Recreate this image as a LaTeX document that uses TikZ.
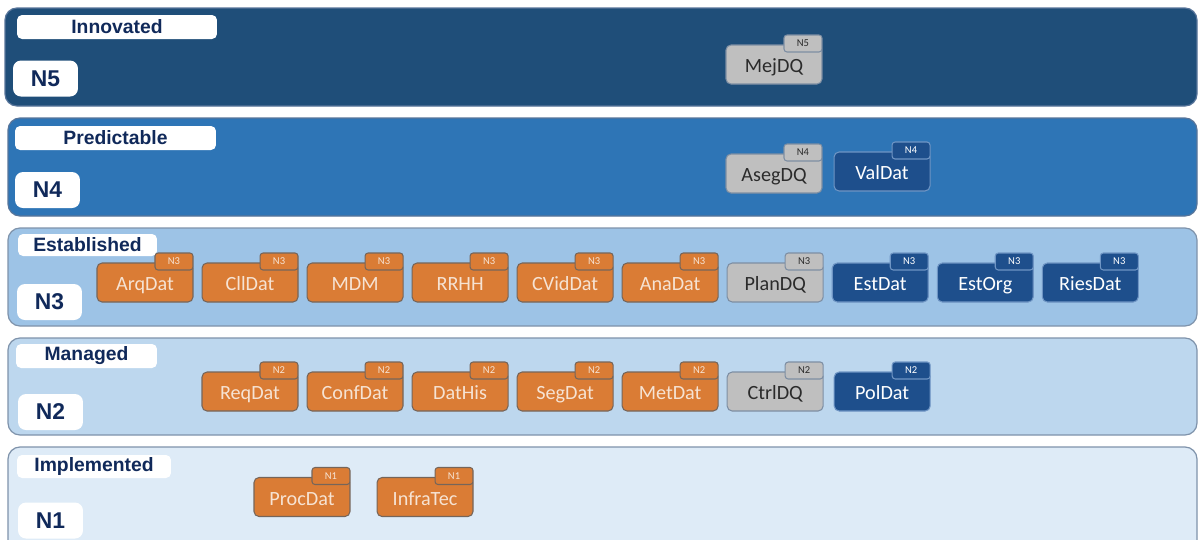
\documentclass[tikz,border=0pt]{standalone}
\usepackage{fontspec}
\setmainfont{Carlito}
\newfontfamily\headfont{Liberation Sans}
\usetikzlibrary{positioning}

\definecolor{lvlfive}{HTML}{1F4E79}
\definecolor{lvlfour}{HTML}{2E75B6}
\definecolor{lvlthree}{HTML}{9DC3E6}
\definecolor{lvltwo}{HTML}{BDD7EE}
\definecolor{lvlone}{HTML}{DEEBF7}
\definecolor{edgedark}{HTML}{58759A}
\definecolor{edgelight}{HTML}{7F93AB}
\definecolor{headtext}{HTML}{10295A}
\definecolor{procorange}{HTML}{DA7C35}
\definecolor{orangeedge}{HTML}{75655A}
\definecolor{orangetext}{HTML}{F6E3D3}
\definecolor{procgray}{HTML}{BFBFBF}
\definecolor{grayedge}{HTML}{7D8EA3}
\definecolor{graytext}{HTML}{2B2B2B}
\definecolor{procnavy}{HTML}{1E4F8C}
\definecolor{navyedge}{HTML}{6F95C4}

\begin{document}
\begin{tikzpicture}[
    x=0.02cm, y=-0.02cm,
    node distance=0.16cm,
    band/.style={draw=#1, line width=0.7pt, rounded corners=0.24cm},
    leveltitle/.style={rectangle, fill=white, rounded corners=0.1cm, minimum height=0.48cm, inner sep=0pt, text=headtext, font=\headfont\bfseries\fontsize{11}{12}\selectfont},
    levelid/.style={rectangle, fill=white, rounded corners=0.16cm, minimum width=1.3cm, minimum height=0.72cm, inner sep=0pt, text=headtext, font=\headfont\bfseries\fontsize{13}{14}\selectfont},
    procbox/.style={rectangle, rounded corners=0.1cm, minimum width=1.92cm, minimum height=0.78cm, inner sep=1pt, text height=9.5pt, text depth=0pt, line width=0.6pt, font=\fontsize{11.5}{12}\selectfont},
    tagbox/.style={rectangle, rounded corners=0.06cm, minimum width=0.76cm, minimum height=0.34cm, inner sep=0pt, line width=0.6pt, anchor=north east, yshift=0.2cm, font=\fontsize{6}{6}\selectfont},
    orangebox/.style={procbox, fill=procorange, draw=orangeedge, text=orangetext,
        label={[tagbox, fill=procorange, draw=orangeedge, text=orangetext]north east:#1}},
    graybox/.style={procbox, fill=procgray, draw=grayedge, text=graytext,
        label={[tagbox, fill=procgray, draw=grayedge, text=graytext]north east:#1}},
    navybox/.style={procbox, fill=procnavy, draw=navyedge, text=white,
        label={[tagbox, fill=procnavy, draw=navyedge, text=white]north east:#1}}
]

\useasboundingbox (0,0) rectangle (1198,539);
\clip (0,0) rectangle (1198,539);
\fill[white] (0,0) rectangle (1198,539);

% Level bands
\draw[band=edgedark, fill=lvlfive] (5,8) rectangle (1197,106);
\draw[band=edgedark, fill=lvlfour] (8,118) rectangle (1197,216);
\draw[band=edgelight, fill=lvlthree] (8,228) rectangle (1197,326);
\draw[band=edgelight, fill=lvltwo] (8,338) rectangle (1197,435);
\draw[band=edgelight, fill=lvlone] (8,447) rectangle (1197,570);

% Level titles
\node[leveltitle, minimum width=4cm] (t5) at (117,27) {Innovated};
\node[leveltitle, minimum width=4.02cm] (t4) at (115.5,138) {Predictable};
\node[leveltitle, minimum width=2.78cm, minimum height=0.44cm] (t3) at (87.5,245) {Established};
\node[leveltitle, minimum width=2.82cm] (t2) at (86.5,356) {Managed};
\node[leveltitle, minimum width=3.08cm, minimum height=0.46cm] (t1) at (94,466.5) {Implemented};

% Level ids
\node[levelid] (n5) at (45.5,78.5) {N5};
\node[levelid] (n4) at (47.5,190) {N4};
\node[levelid] (n3) at (49.5,302) {N3};
\node[levelid] (n2) at (50.5,412) {N2};
\node[levelid] (n1) at (50.5,520.5) {N1};

% N5
\node[graybox=N5] (mejdq) at (774,64.5) {MejDQ};

% N4
\node[graybox=N4] (asegdq) at (774,173.5) {AsegDQ};
\node[navybox=N4, right=0.22cm of asegdq, yshift=0.04cm] (valdat) {ValDat};

% N3
\node[orangebox=N3] (arqdat) at (145,282.5) {ArqDat};
\node[orangebox=N3, right=of arqdat] (clldat) {CllDat};
\node[orangebox=N3, right=of clldat] (mdm) {MDM};
\node[orangebox=N3, right=of mdm] (rrhh) {RRHH};
\node[orangebox=N3, right=of rrhh] (cviddat) {CVidDat};
\node[orangebox=N3, right=of cviddat] (anadat) {AnaDat};
\node[graybox=N3, right=of anadat] (plandq) {PlanDQ};
\node[navybox=N3, right=of plandq] (estdat) {EstDat};
\node[navybox=N3, right=of estdat] (estorg) {EstOrg};
\node[navybox=N3, right=of estorg] (riesdat) {RiesDat};

% N2
\node[orangebox=N2] (reqdat) at (250,391.5) {ReqDat};
\node[orangebox=N2, right=of reqdat] (confdat) {ConfDat};
\node[orangebox=N2, right=of confdat] (dathis) {DatHis};
\node[orangebox=N2, right=of dathis] (segdat) {SegDat};
\node[orangebox=N2, right=of segdat] (metdat) {MetDat};
\node[graybox=N2, right=of metdat] (ctrldq) {CtrlDQ};
\node[navybox=N2, right=0.2cm of ctrldq] (poldat) {PolDat};

% N1
\node[orangebox=N1] (procdat) at (302,497) {ProcDat};
\node[orangebox=N1, right=0.52cm of procdat] (infratec) {InfraTec};

\end{tikzpicture}
\end{document}
